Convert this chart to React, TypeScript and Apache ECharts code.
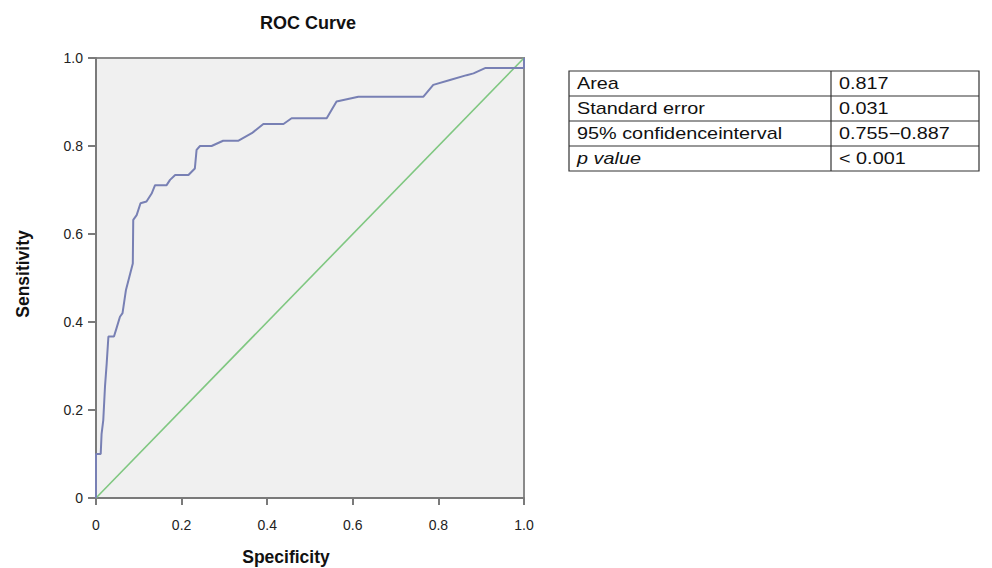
import React, { useEffect, useRef } from "react";
import * as echarts from "echarts";

// ROC curve points (x = 1 - specificity axis shown as "Specificity", y = sensitivity)
const rocX = [0, 0, 0.011, 0.013, 0.017, 0.021, 0.025, 0.029, 0.042, 0.048, 0.056, 0.062, 0.07, 0.078, 0.086, 0.087, 0.095, 0.104, 0.118, 0.13, 0.138, 0.165, 0.173, 0.185, 0.216, 0.231, 0.235, 0.243, 0.27, 0.297, 0.333, 0.364, 0.391, 0.438, 0.457, 0.539, 0.562, 0.613, 0.765, 0.788, 0.827, 0.866, 0.882, 0.909, 1.0, 1.0];
const rocY = [0, 0.1, 0.1, 0.145, 0.177, 0.253, 0.306, 0.367, 0.367, 0.386, 0.412, 0.42, 0.473, 0.503, 0.533, 0.632, 0.643, 0.67, 0.674, 0.692, 0.711, 0.711, 0.723, 0.734, 0.734, 0.749, 0.791, 0.8, 0.8, 0.812, 0.812, 0.829, 0.85, 0.85, 0.863, 0.863, 0.901, 0.912, 0.912, 0.939, 0.95, 0.961, 0.965, 0.977, 0.977, 1.0];
const refX = [0, 1];
const refY = [0, 1];
const tickLabels = ["0", "0.2", "0.4", "0.6", "0.8", "1.0"];

const titleText = "ROC Curve";
const xName = "Specificity";
const yName = "Sensitivity";

const tableLabels = ["Area", "Standard error", "95% confidenceinterval", "p value"];
const tableValues = ["0.817", "0.031", "0.755\u22120.887", "< 0.001"];

const FONT = "'Liberation Sans', Arial, Helvetica, sans-serif";

export default function App() {
  const ref = useRef<HTMLDivElement>(null);

  useEffect(() => {
    if (!ref.current) return;
    const chart = echarts.init(ref.current, undefined, { renderer: "svg" });

    const tableLeft = 569;
    const tableDiv = 831;
    const tableRight = 979;
    const tableTop = 71;
    const rowH = 25;
    const nRows = tableLabels.length;
    const tableBottom = tableTop + rowH * nRows;

    const tableGraphics: any[] = [];
    tableGraphics.push({
      type: "rect",
      shape: { x: tableLeft, y: tableTop, width: tableRight - tableLeft, height: tableBottom - tableTop },
      style: { fill: "#fff", stroke: "#333", lineWidth: 1.2 },
      z: 10,
    });
    tableGraphics.push({
      type: "line",
      shape: { x1: tableDiv, y1: tableTop, x2: tableDiv, y2: tableBottom },
      style: { stroke: "#333", lineWidth: 1.2 },
      z: 11,
    });
    for (let i = 1; i < nRows; i++) {
      tableGraphics.push({
        type: "line",
        shape: { x1: tableLeft, y1: tableTop + rowH * i, x2: tableRight, y2: tableTop + rowH * i },
        style: { stroke: "#333", lineWidth: 1.2 },
        z: 11,
      });
    }
    tableLabels.forEach((lab, i) => {
      const cy = tableTop + rowH * i + rowH / 2 + 0.5;
      tableGraphics.push({
        type: "text",
        x: tableLeft + 8,
        y: cy,
        scaleX: 1.24,
        z: 12,
        style: {
          text: lab,
          fontSize: 16,
          fontFamily: FONT,
          fontStyle: i === 3 ? "italic" : "normal",
          fill: "#111",
          align: "left",
          verticalAlign: "middle",
        },
      });
      tableGraphics.push({
        type: "text",
        x: tableDiv + 8,
        y: cy,
        scaleX: 1.24,
        z: 12,
        style: {
          text: tableValues[i],
          fontSize: 16,
          fontFamily: FONT,
          fill: "#111",
          align: "left",
          verticalAlign: "middle",
        },
      });
    });

    const axisLabelFmt = (v: number) => tickLabels[Math.round(v / 0.2)] ?? "";

    chart.setOption({
      animation: false,
      backgroundColor: "#ffffff",
      grid: {
        left: 96,
        top: 58,
        width: 428,
        height: 440,
        show: true,
        backgroundColor: "#f0f0f0",
        borderColor: "#8a8a8a",
        borderWidth: 2,
      },
      xAxis: {
        type: "value",
        min: 0,
        max: 1,
        interval: 0.2,
        splitLine: { show: false },
        axisLine: { show: true, lineStyle: { color: "#7a7a7a", width: 2 } },
        axisTick: { show: true, inside: false, length: 7, lineStyle: { color: "#7a7a7a", width: 2 } },
        axisLabel: { formatter: axisLabelFmt, margin: 20, fontSize: 14, color: "#222", fontFamily: FONT },
      },
      yAxis: {
        type: "value",
        min: 0,
        max: 1,
        interval: 0.2,
        splitLine: { show: false },
        axisLine: { show: true, lineStyle: { color: "#7a7a7a", width: 2 } },
        axisTick: { show: true, inside: false, length: 8, lineStyle: { color: "#7a7a7a", width: 2 } },
        axisLabel: { formatter: axisLabelFmt, margin: 13, fontSize: 14, color: "#222", fontFamily: FONT },
      },
      series: [
        {
          type: "line",
          data: refX.map((x, i) => [x, refY[i]]),
          showSymbol: false,
          symbol: "none",
          lineStyle: { color: "#7fc781", width: 1.6 },
          z: 2,
        },
        {
          type: "line",
          data: rocX.map((x, i) => [x, rocY[i]]),
          showSymbol: false,
          symbol: "none",
          lineStyle: { color: "#7880b4", width: 2 },
          z: 3,
        },
      ],
      graphic: [
        {
          type: "text",
          x: 308,
          y: 23,
          style: { text: titleText, fontSize: 18, fontWeight: "bold", fontFamily: FONT, fill: "#111", align: "center", verticalAlign: "middle" },
        },
        {
          type: "text",
          x: 23,
          y: 274,
          rotation: Math.PI / 2,
          style: { text: yName, fontSize: 17.5, fontWeight: "bold", fontFamily: FONT, fill: "#111", align: "center", verticalAlign: "middle" },
        },
        {
          type: "text",
          x: 286,
          y: 557,
          style: { text: xName, fontSize: 17.5, fontWeight: "bold", fontFamily: FONT, fill: "#111", align: "center", verticalAlign: "middle" },
        },
        ...tableGraphics,
      ],
    });

    return () => {
      chart.dispose();
    };
  }, []);

  return (
    <div
      ref={ref}
      style={{ position: "fixed", left: 0, top: 0, width: 992, height: 568, background: "#fff" }}
    />
  );
}
